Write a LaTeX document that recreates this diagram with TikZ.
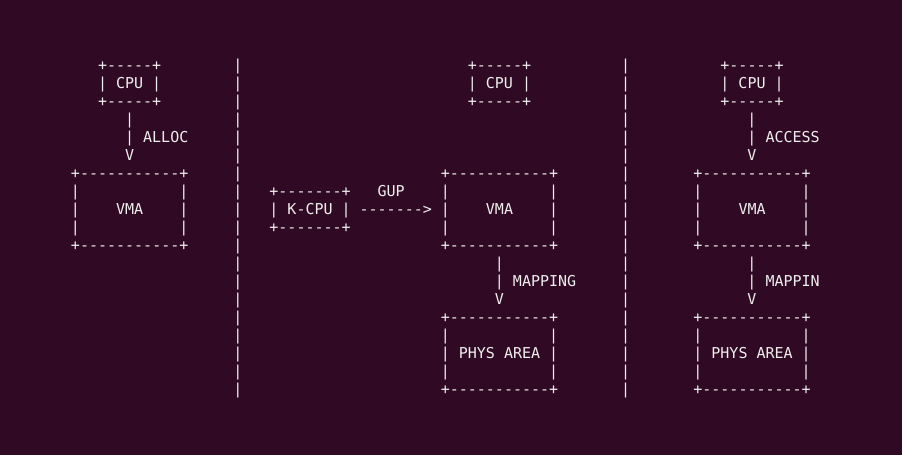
\documentclass[tikz,border=0pt]{standalone}
\usepackage{fontspec}
\setmonofont{DejaVu Sans Mono}
\usepackage{xcolor}
\definecolor{termbg}{HTML}{300A24}
\definecolor{termfg}{HTML}{EEEEEC}
\tikzset{
  ascii/.style={anchor=base west, inner sep=0pt, outer sep=0pt, text=termfg,
    font=\ttfamily\fontsize{15bp}{18bp}\selectfont},
}
% one text row per grid line: name, column, row, rows
\newcommand{\asciiblock}[4]{%
  \foreach \txt [count=\k from 0] in {#4}
    \node[ascii] (#1-\k) at ({#2-0.5},{#3+\k+0.3}) {\txt};}

\begin{document}
\begin{tikzpicture}[x=9.02bp, y=-18bp]
  \fill[termbg] (-8.37,-3.611) rectangle (91.63,21.667);
  \useasboundingbox (-8.37,-3.611) rectangle (91.63,21.667);

  % user allocates
  \asciiblock{cpuA}{3}{0}{+-----+, |~CPU~|, +-----+}
  \asciiblock{alloc}{6}{3}{|, |~ALLOC, V}
  \asciiblock{vmaA}{0}{6}{+-----------+, |~~~~~~~~~~~|, |~~~~VMA~~~~|, |~~~~~~~~~~~|, +-----------+}

  % separators
  \foreach \r in {0,...,18} {
    \node[ascii] (sepA-\r) at (17.5,\r+0.3) {|};
    \node[ascii] (sepB-\r) at (60.5,\r+0.3) {|};
  }

  % kernel pins pages
  \asciiblock{kcpu}{22}{7}{+-------+, |~K-CPU~|, +-------+}
  \asciiblock{gup}{34}{7}{GUP}
  \asciiblock{gupline}{32}{8}{------->}
  \asciiblock{cpuB}{44}{0}{+-----+, |~CPU~|, +-----+}
  \asciiblock{vmaB}{41}{6}{+-----------+, |~~~~~~~~~~~|, |~~~~VMA~~~~|, |~~~~~~~~~~~|, +-----------+}
  \asciiblock{mapB}{47}{11}{|, |~MAPPING, V}
  \asciiblock{physB}{41}{14}{+-----------+, |~~~~~~~~~~~|, |~PHYS~AREA~|, |~~~~~~~~~~~|, +-----------+}

  % user accesses
  \asciiblock{cpuC}{72}{0}{+-----+, |~CPU~|, +-----+}
  \asciiblock{access}{75}{3}{|, |~ACCESS, V}
  \asciiblock{vmaC}{69}{6}{+-----------+, |~~~~~~~~~~~|, |~~~~VMA~~~~|, |~~~~~~~~~~~|, +-----------+}
  \asciiblock{mapC}{75}{11}{|, |~MAPPIN, V}
  \asciiblock{physC}{69}{14}{+-----------+, |~~~~~~~~~~~|, |~PHYS~AREA~|, |~~~~~~~~~~~|, +-----------+}
\end{tikzpicture}
\end{document}
